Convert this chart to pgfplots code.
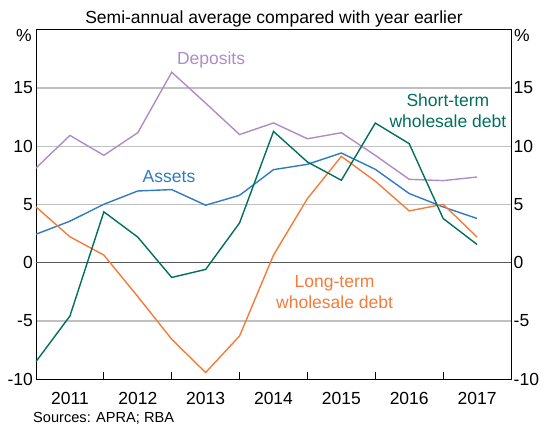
\documentclass[border=0pt]{standalone}
\usepackage{pgfplots}
\pgfplotsset{compat=1.18}
\usepackage{pgfplotstable}
\usepackage{fontspec}
\setmainfont{Liberation Sans}

\definecolor{deposits}{HTML}{B08CC6}
\definecolor{assets}{HTML}{2E7BC4}
\definecolor{shortterm}{HTML}{00705A}
\definecolor{longterm}{HTML}{F57B3A}
\definecolor{gridgray}{HTML}{C0C0C0}

\newcommand{\lbl}{\fontsize{17.5bp}{20.6bp}\selectfont}

% semi-annual, x = years since start of 2011
\pgfplotstableread{
x    dep    ast   st     lt
0    8.13   2.45  -8.48  4.79
0.5  10.93  3.57  -4.57  2.23
1    9.22   5.02  4.37   0.66
1.5  11.16  6.16  2.20   -2.90
2    16.35  6.28  -1.26  -6.56
2.5  13.70  4.94  -0.57  -9.42
3    11.00  5.79  3.42   -6.28
3.5  12.00  7.99  11.27  0.66
4    10.64  8.45  8.65   5.51
4.5  11.16  9.42  7.08   9.13
5    9.22   8.02  11.99  7.00
5.5  7.16   5.94  10.22  4.45
6    7.05   4.79  3.80   5.02
6.5  7.36   3.80  1.57   2.20
}\rbadata

\begin{document}
\begin{tikzpicture}[x=1bp,y=1bp]
\path[use as bounding box] (0,0) rectangle (548,432);

\begin{axis}[
    at={(36bp,52.7bp)}, anchor=south west,
    scale only axis, width=475bp, height=349.6bp,
    xmin=0, xmax=7, ymin=-10, ymax=20,
    xtick={0,1,2,3,4,5,6,7},
    xticklabels={2011,2012,2013,2014,2015,2016,2017},
    x tick label as interval,
    xtick pos=bottom,
    tick align=inside,
    major tick length=7.5bp,
    xtick style={black, line width=0.8bp},
    xticklabel style={font=\lbl, inner sep=0pt, anchor=north, yshift=-13bp},
    ytick={-10,-5,0,5,10,15},
    yticklabels={-10,-5,0,5,10,15},
    ytick style={draw=none},
    yticklabel style={font=\lbl, inner sep=0pt, xshift=-3bp},
    ymajorgrids,
    grid style={gridgray, line width=1.1bp},
    extra y ticks={0},
    extra y tick labels={},
    extra y tick style={grid style={black!65, line width=1.1bp}, ytick style={draw=none}},
    axis line style={black, line width=0.8bp},
    clip=false,
]
\addplot[deposits, line width=1.4bp] table[x=x, y=dep] {\rbadata};
\addplot[assets, line width=1.4bp] table[x=x, y=ast] {\rbadata};
\addplot[longterm, line width=1.4bp] table[x=x, y=lt] {\rbadata};
\addplot[shortterm, line width=1.4bp] table[x=x, y=st] {\rbadata};

\node[deposits, font=\lbl, anchor=base] at (axis cs:2.58,17.0) {Deposits};
\node[assets, font=\lbl, anchor=base] at (axis cs:1.96,6.9) {Assets};
\node[longterm, font=\lbl, anchor=base] at (axis cs:4.40,-2.14) {Long-term};
\node[longterm, font=\lbl, anchor=base] at (axis cs:4.40,-3.90) {wholesale debt};
\node[shortterm, font=\lbl, anchor=base] at (axis cs:6.07,13.42) {Short-term};
\node[shortterm, font=\lbl, anchor=base] at (axis cs:6.07,11.64) {wholesale debt};
\end{axis}

\begin{axis}[
    at={(36bp,52.7bp)}, anchor=south west,
    scale only axis, width=475bp, height=349.6bp,
    xmin=0, xmax=7, ymin=-10, ymax=20,
    hide x axis,
    axis y line*=right,
    ytick={-10,-5,0,5,10,15},
    yticklabels={-10,-5,0,5,10,15},
    ytick style={draw=none},
    yticklabel style={font=\lbl, inner sep=0pt, xshift=2.5bp},
    axis line style={black, line width=0.8bp},
]
\end{axis}

\node[font=\lbl, anchor=base east, inner sep=0pt] at (32,390.3) {\%};
\node[font=\lbl, anchor=base west, inner sep=0pt] at (514,390.3) {\%};
\node[font=\lbl, anchor=base, inner sep=0pt] at (274,408) {Semi-annual average compared with year earlier};
\node[font=\fontsize{14.6bp}{16bp}\selectfont, anchor=base west, inner sep=0pt] at (33,10) {Sources: APRA; RBA};
\end{tikzpicture}
\end{document}
